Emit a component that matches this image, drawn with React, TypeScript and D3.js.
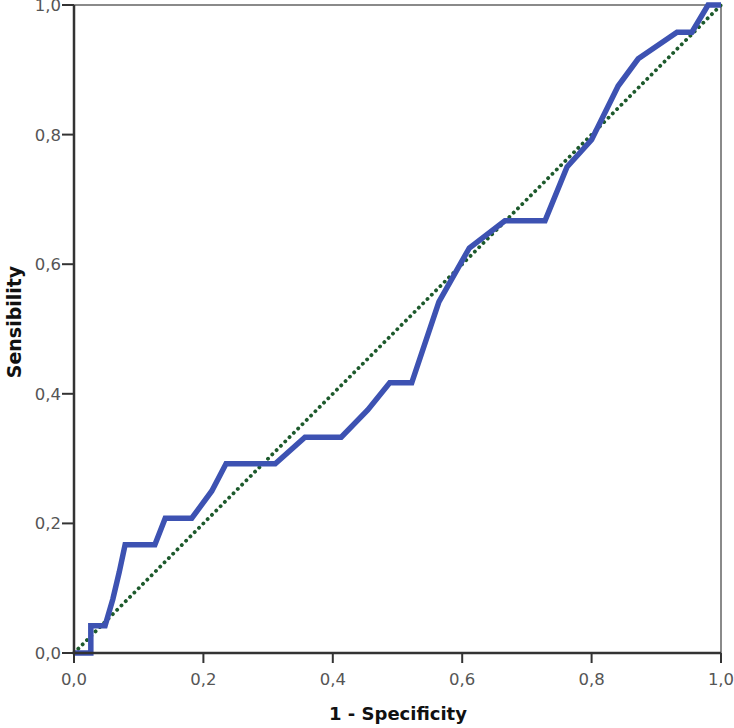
import React from "react";
import * as d3 from "d3";

const fpr = [0, 0.026, 0.026, 0.048, 0.06, 0.07, 0.079, 0.125, 0.141, 0.182, 0.213, 0.235, 0.311, 0.357, 0.413, 0.454, 0.488, 0.522, 0.564, 0.611, 0.666, 0.728, 0.762, 0.8, 0.841, 0.872, 0.932, 0.955, 0.98, 1];
const tpr = [0, 0, 0.042, 0.042, 0.083, 0.125, 0.167, 0.167, 0.208, 0.208, 0.25, 0.292, 0.292, 0.333, 0.333, 0.375, 0.417, 0.417, 0.542, 0.625, 0.667, 0.667, 0.75, 0.792, 0.875, 0.917, 0.958, 0.958, 1, 1];
const diagonal = [0, 1];
const ticks = [0, 0.2, 0.4, 0.6, 0.8, 1.0];
const tickLabels = ["0,0", "0,2", "0,4", "0,6", "0,8", "1,0"];

export default function App() {
  const W = 734, H = 728;
  const L = 74, R = 721, T = 5, B = 653;
  const x = d3.scaleLinear().domain([0, 1]).range([L, R]);
  const y = d3.scaleLinear().domain([0, 1]).range([B, T]);
  const pts: [number, number][] = fpr.map((v, i) => [v, tpr[i]]);
  const line = d3.line<[number, number]>().x(d => x(d[0])).y(d => y(d[1]));
  const diag: [number, number][] = diagonal.map(v => [v, v]);
  const font = "'DejaVu Sans', Verdana, sans-serif";
  return (
    <svg width={W} height={H} style={{ position: "absolute", left: 0, top: 0, background: "#fff" }}>
      <rect x={0} y={0} width={W} height={H} fill="#fff" />
      {/* frame */}
      <line x1={L} x2={R} y1={T} y2={T} stroke="#8a8a8a" strokeWidth={2} />
      <line x1={R} x2={R} y1={T} y2={B} stroke="#8a8a8a" strokeWidth={2} />
      {/* diagonal */}
      <path d={line(diag) || ""} fill="none" stroke="#1d5a2c" strokeWidth={3.8} strokeDasharray="0.1 6" strokeLinecap="round" />
      {/* ROC */}
      <path d={line(pts) || ""} fill="none" stroke="#3d52b2" strokeWidth={5.5} strokeLinejoin="miter" />
      {/* axes */}
      <line x1={L} x2={R} y1={B} y2={B} stroke="#333" strokeWidth={2.5} />
      <line x1={L} x2={L} y1={T} y2={B} stroke="#333" strokeWidth={2.5} />
      {ticks.map((t, i) => (
        <g key={"x" + i}>
          <line x1={x(t)} x2={x(t)} y1={B} y2={B + 10} stroke="#333" strokeWidth={2} />
          <text x={x(t)} y={685} textAnchor="middle" fontFamily={font} fontSize={16.5} fill="#555">{tickLabels[i]}</text>
        </g>
      ))}
      {ticks.map((t, i) => (
        <g key={"y" + i}>
          <line x1={L - 12} x2={L} y1={y(t)} y2={y(t)} stroke="#333" strokeWidth={2} />
          <text x={61} y={y(t) + 6} textAnchor="end" fontFamily={font} fontSize={16.5} fill="#555">{tickLabels[i]}</text>
        </g>
      ))}
      <text x={398} y={720} textAnchor="middle" fontFamily={font} fontWeight="bold" fontSize={18} fill="#111">1 - Specificity</text>
      <text transform="translate(21,322) rotate(-90)" textAnchor="middle" fontFamily={font} fontWeight="bold" fontSize={19} fill="#111">Sensibility</text>
    </svg>
  );
}
